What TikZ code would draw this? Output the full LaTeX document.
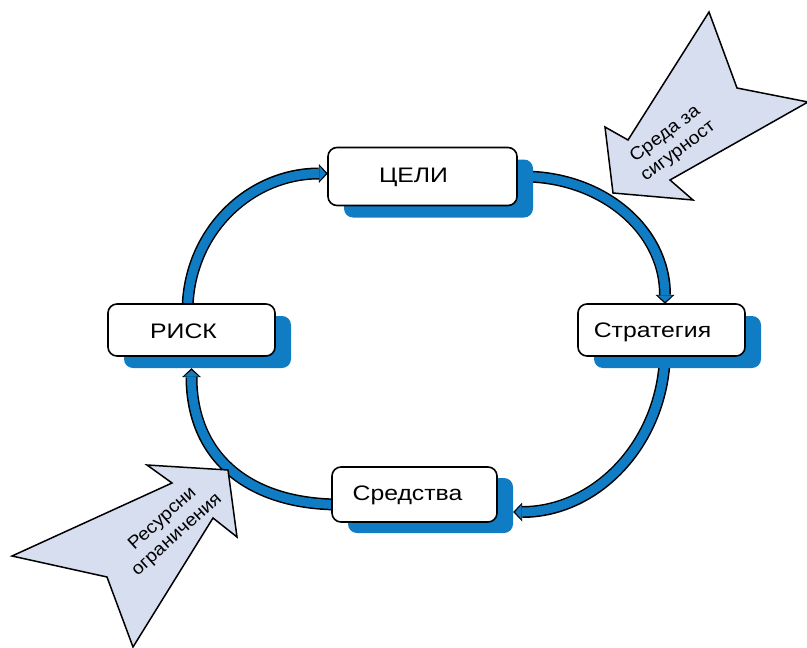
\documentclass[tikz,border=0pt]{standalone}
\usepackage{fontspec}
\setmainfont{Liberation Sans}
\newfontfamily\boxfont[FakeStretch=1.18]{Liberation Sans}
\newfontfamily\tagfont[FakeStretch=1.08]{Liberation Sans}
\usetikzlibrary{arrows.meta,calc}
\definecolor{flowblue}{RGB}{16,124,196}
\definecolor{tagfill}{RGB}{214,222,240}
\begin{document}
\begin{tikzpicture}[x=1pt,y=-1pt,
  stepbox/.style={draw=black, line width=1.6pt, fill=white, rounded corners=9pt, inner sep=0pt},
  shadowbox/.style={fill=flowblue, rounded corners=9pt, inner sep=0pt},
  boxtext/.style={font=\boxfont\fontsize{21}{25}\selectfont, inner sep=0pt},
  flowedge/.style={draw=black, line width=12pt, -{Triangle[length=9pt,width=19pt,line width=0pt]}},
  flowcore/.style={draw=flowblue, line width=9pt, shorten >=2pt, -{Triangle[length=6.5pt,width=15pt,line width=0pt]}},
  tagshape/.style={draw=black, line width=1.5pt, fill=tagfill, line join=miter},
  tagtext/.style={font=\tagfont\fontsize{18}{21.5}\selectfont, align=center, inner sep=0pt}
]
\useasboundingbox (0,0) rectangle (807,648);

% box positions (named first, drawn later on top of the flow arrows)
\path (422.5,176.5) coordinate (goals-c)
      (661.5,330)   coordinate (strategy-c)
      (414.5,494.5) coordinate (means-c)
      (191.5,330)   coordinate (risk-c);

% invisible placeholders so the arrows can refer to box anchors
\node[inner sep=0pt, minimum width=189pt, minimum height=58pt] (goals) at (goals-c) {};
\node[inner sep=0pt, minimum width=167pt, minimum height=52pt] (strategy) at (strategy-c) {};
\node[inner sep=0pt, minimum width=165pt, minimum height=55pt] (means) at (means-c) {};
\node[inner sep=0pt, minimum width=167pt, minimum height=52pt] (risk) at (risk-c) {};

% cycle of flow arrows
\foreach \st in {flowedge,flowcore}{
  \draw[\st] ($(risk.north)+(-4,8)$) .. controls +(0,-80) and +(-78,0) .. ($(goals.west)+(0,-3)$);
  \draw[\st] ($(goals.east)+(6,0)$) .. controls +(78,0) and +(0,-75) .. ($(strategy.north)+(3.5,0)$);
  \draw[\st] ($(strategy.south)+(3.5,-6)$) .. controls +(0,90) and +(85,0) .. ($(means.east)+(16,17.5)$);
  \draw[\st] ($(means.west)+(8,10)$) .. controls +(-92,0) and +(0,88) .. ($(risk.south)+(0,12)$);
}

% shadows
\node[shadowbox, minimum width=189pt, minimum height=58pt] (goals-sh) at ($(goals-c)+(16,12)$) {};
\node[shadowbox, minimum width=167pt, minimum height=52pt] (strategy-sh) at ($(strategy-c)+(16,12)$) {};
\node[shadowbox, minimum width=165pt, minimum height=55pt] (means-sh) at ($(means-c)+(16,11)$) {};
\node[shadowbox, minimum width=167pt, minimum height=52pt] (risk-sh) at ($(risk-c)+(16,12)$) {};

% boxes
\node[stepbox, minimum width=189pt, minimum height=58pt] (goals-b) at (goals-c) {};
\node[stepbox, minimum width=167pt, minimum height=52pt] (strategy-b) at (strategy-c) {};
\node[stepbox, minimum width=165pt, minimum height=55pt] (means-b) at (means-c) {};
\node[stepbox, minimum width=167pt, minimum height=52pt] (risk-b) at (risk-c) {};

\node[boxtext] (goals-t) at ($(goals-c)+(-9,1)$) {ЦЕЛИ};
\node[boxtext] (strategy-t) at ($(strategy-c)+(-9,2)$) {Стратегия};
\node[boxtext] (means-t) at ($(means-c)+(-7,1)$) {Средства};
\node[boxtext] (risk-t) at ($(risk-c)+(-8,1)$) {РИСК};

% external pressure arrows
\draw[tagshape] (709,12) -- (737,88) -- (808,102) -- (670,180) -- (693,200)
  -- (613,193) -- (605,127) -- (628,140) -- cycle;
\node[tagtext, rotate=37] (env) at (672,143) {Среда за\\сигурност};

\draw[tagshape] (12,556) -- (172,483) -- (147,465) -- (228,470) -- (237,537)
  -- (213,518) -- (133,647) -- (107,577) -- cycle;
\node[tagtext, rotate=42] (res) at (170,527) {Ресурсни\\ограничения};
\end{tikzpicture}
\end{document}
